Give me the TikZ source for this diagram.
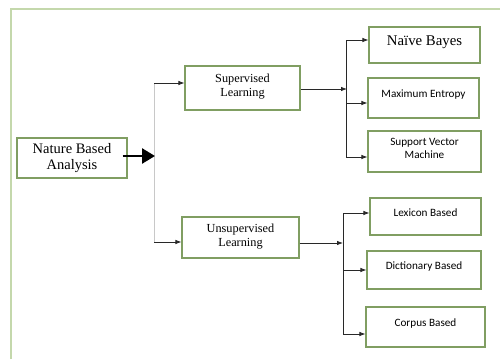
\documentclass[tikz,border=0pt]{standalone}
\usepackage{fontspec}
\setmainfont{Liberation Serif}
\newfontfamily\carlfont{Carlito}
\usetikzlibrary{arrows.meta}
\definecolor{boxgreen}{RGB}{128,158,98}
\definecolor{framegreen}{RGB}{196,216,172}
\definecolor{busgray}{RGB}{200,200,200}
\definecolor{linedark}{RGB}{40,40,40}
\tikzset{
  bx/.style={draw=boxgreen, line width=1.1pt, inner sep=0pt, align=center, fill=white},
  serifbig/.style={font=\fontsize{14.5}{16}\selectfont},
  serifmid/.style={font=\fontsize{12.3}{14}\selectfont},
  sanssmall/.style={font=\carlfont\fontsize{11.2}{13}\selectfont},
  conn/.style={draw=linedark, line width=0.8pt},
  arr/.style={conn, -{Latex[length=6pt,width=4.5pt]}},
  bigarr/.style={draw=black, line width=2.6pt, -{Triangle[length=13pt,width=15pt]}},
  frameline/.style={draw=framegreen, line width=1.8pt}
}
\begin{document}
\begin{tikzpicture}[x=1pt,y=-1pt]
\useasboundingbox (0,0) rectangle (500,359);
\fill[white] (0,0) rectangle (500,359);
\draw[frameline] (11,359) -- (11,9) -- (500,9);

\node[bx, serifbig, minimum width=110pt, minimum height=40pt] (nat) at (72,158) {Nature Based\\Analysis};
\node[bx, serifmid, minimum width=115pt, minimum height=44pt] (sup) at (242.5,88) {Supervised\\Learning\\[-8pt]\mbox{}};
\node[bx, serifmid, minimum width=117pt, minimum height=41pt] (uns) at (240.5,237.5) {Unsupervised\\Learning\\[-9pt]\mbox{}};
\node[bx, font=\fontsize{14.8}{16}\selectfont, minimum width=111pt, minimum height=36pt] (nb) at (424.5,45) {Naïve Bayes\\[-8pt]\mbox{}};
\node[bx, sanssmall, minimum width=111pt, minimum height=40pt] (me) at (423.5,98) {Maximum Entropy\\[-4pt]\mbox{}};
\node[bx, sanssmall, minimum width=113pt, minimum height=41pt] (svm) at (424.5,151.5) {Support Vector\\Machine\\[-7pt]\mbox{}};
\node[bx, sanssmall, minimum width=111pt, minimum height=37pt] (lex) at (425.5,216.5) {Lexicon Based\\[-5pt]\mbox{}};
\node[bx, sanssmall, minimum width=114pt, minimum height=38pt] (dic) at (424,270) {Dictionary Based\\[-4pt]\mbox{}};
\node[bx, sanssmall, minimum width=119pt, minimum height=40pt] (cor) at (425.5,327) {Corpus Based\\[-4pt]\mbox{}};

% first bus
\coordinate (b1top) at (154,83);
\coordinate (b1bot) at (154,242);
\coordinate (b1mid) at (155,156);
\draw[draw=busgray, line width=1pt] (b1top) -- (b1bot);
\draw[bigarr] (nat.east |- b1mid) ++(-5,0) -- (b1mid);
\draw[arr] (b1top) -- (sup.west |- b1top);
\draw[arr] (b1bot) -- (uns.west |- b1bot);

% second bus
\coordinate (b2top) at (346,40);
\coordinate (b2bot) at (346,157);
\coordinate (b2in) at (347,89);
\draw[conn] (b2top) -- (b2bot);
\draw[arr] (sup.east |- b2in) -- (b2in);
\draw[arr] (b2top) -- (nb.west |- b2top);
\draw[arr] (346,103) coordinate (b2me) -- (me.west |- b2me);
\draw[arr] (b2bot) -- (svm.west |- b2bot);

% third bus
\coordinate (b3top) at (343,213);
\coordinate (b3bot) at (343,334);
\coordinate (b3in) at (343,243);
\draw[conn] (b3top) -- (b3bot);
\draw[arr] (uns.east |- b3in) -- (b3in);
\draw[arr] (b3top) -- (lex.west |- b3top);
\draw[arr] (343,270) coordinate (b3dic) -- (dic.west |- b3dic);
\draw[arr] (b3bot) -- (cor.west |- b3bot);
\end{tikzpicture}
\end{document}
